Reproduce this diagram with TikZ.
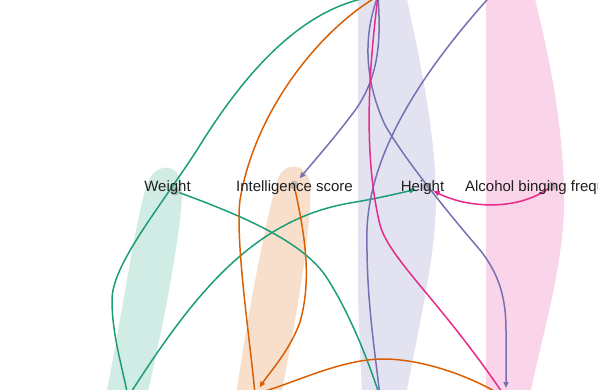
\documentclass[tikz,border=0pt]{standalone}
\usepackage{fontspec}
\setmainfont{Liberation Sans}
\usetikzlibrary{arrows.meta}
\definecolor{dkgreen}{HTML}{1B9E77}
\definecolor{dkorange}{HTML}{D95F02}
\definecolor{dkpurple}{HTML}{7570B3}
\definecolor{dkpink}{HTML}{E7298A}

\begin{document}
\begin{tikzpicture}[x=1pt,y=-1pt]
	\tikzset{vertex/.style = {shape=circle, minimum size=9pt, inner sep=0pt},
		band/.style = {fill=#1, fill opacity=0.2},
		link/.style = {draw=#1, line width=1.5pt},
		arr/.style = {-{Triangle[length=6pt,width=5pt]}, shorten >=#1},
		arr/.default = 4pt,
		dotfill/.style = {fill=gray, fill opacity=0.45},
		lbl/.style = {anchor=base, inner sep=0pt, text=black!88, font=\fontsize{15pt}{18pt}\selectfont}}
	\useasboundingbox (0,0) rectangle (598,389);
	\clip (0,0) rectangle (598,389);
	\fill[band=dkgreen] (106,395) .. controls (125,300) and (138,200) .. (150,178) .. controls (158,164) and (178,162) .. (182,185) .. controls (184,215) and (165,320) .. (147,395) -- cycle;
	\fill[band=dkorange] (236,395) .. controls (250,300) and (268,210) .. (278,178) .. controls (285,162) and (305,162) .. (310,182) .. controls (313,215) and (300,300) .. (281,395) -- cycle;
	\fill[band=dkpurple] (358,-5) -- (358,300) -- (362,395) -- (406,395) .. controls (420,320) and (437,250) .. (436,195) .. controls (435,130) and (420,60) .. (406,-5) -- cycle;
	\fill[band=dkpink] (486,-5) -- (486,395) -- (530,395) .. controls (543,330) and (566,260) .. (564,190) .. controls (562,110) and (545,40) .. (534,-5) -- cycle;
	\foreach \n/\x/\y in {wt/175/191, it/294/185, ht/426/187, al/552/186}{
		\node[vertex] (\n) at (\x,\y) {};
	}
	\coordinate (top) at (378,-4);
	\coordinate (topr) at (505,-20);
	\coordinate (bl) at (128,397);
	\coordinate (bm) at (255,394);
	\coordinate (bc) at (380,397);
	\coordinate (br) at (506,398);
	\draw[link=dkgreen] (top) .. controls (300,5) and (240,80) .. (197,150) .. controls (158,210) and (112,265) .. (112,300) .. controls (112,335) and (122,365) .. (bl);
	\draw[link=dkgreen] (wt) .. controls (240,215) and (300,240) .. (325,275) .. controls (345,305) and (365,350) .. (bc);
	\draw[link=dkgreen, arr=6pt] (bl) .. controls (190,300) and (250,220) .. (350,203) .. controls (380,198) and (400,193) .. (ht);
	\draw[link=dkorange] (top) .. controls (320,30) and (255,110) .. (240,200) .. controls (235,240) and (250,340) .. (bm);
	\draw[link=dkorange, arr=8pt] (it) .. controls (305,235) and (312,280) .. (300,322) .. controls (290,350) and (270,372) .. (bm);
	\draw[link=dkorange] (bm) .. controls (290,385) and (340,359) .. (383,359) .. controls (425,359) and (475,378) .. (br);
	\draw[link=dkpurple, arr=10pt] (top) .. controls (365,30) and (362,75) .. (385,125) .. controls (405,160) and (450,215) .. (480,250) .. controls (500,275) and (506,300) .. (506,330) -- (br);
	\draw[link=dkpurple, arr] (top) .. controls (381,40) and (380,80) .. (350,117) .. controls (335,137) and (315,160) .. (it);
	\draw[link=dkpurple] (topr) .. controls (440,50) and (370,140) .. (367,230) .. controls (366,300) and (375,350) .. (bc);
	\draw[link=dkpink] (top) .. controls (370,60) and (362,150) .. (380,225) .. controls (390,260) and (440,300) .. (br);
	\draw[link=dkpink, arr] (al) .. controls (515,212) and (465,207) .. (ht);
	\foreach \n in {wt, it, ht, al}{
		\fill[dotfill] (\n) circle[radius=4.5pt];
	}
	\foreach \n/\x/\t in {wt/167.5/Weight, it/294.5/Intelligence score, ht/422.5/Height, al/551/Alcohol binging frequency}{
		\node[lbl] (lbl\n) at (\x,191) {\t};
	}
\end{tikzpicture}
\end{document}
